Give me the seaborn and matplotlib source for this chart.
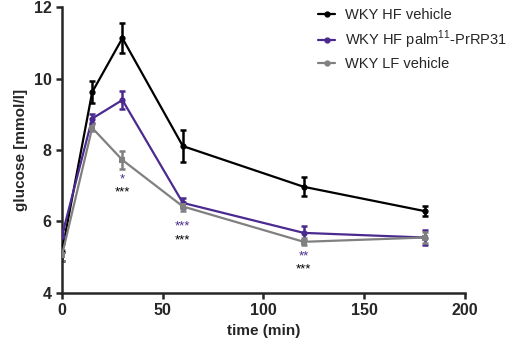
import pandas as pd
import matplotlib
matplotlib.use('Agg')
import matplotlib.pyplot as plt
import seaborn as sns

# 資料
time_min = [0, 15, 30, 60, 120, 180]
hf_vehicle = [5.15, 9.62, 11.13, 8.11, 6.97, 6.29]
hf_vehicle_err = [0.25, 0.3, 0.42, 0.45, 0.27, 0.15]
hf_palm = [5.6, 8.88, 9.4, 6.52, 5.68, 5.55]
hf_palm_err = [0.2, 0.12, 0.25, 0.15, 0.2, 0.2]
lf_vehicle = [5.05, 8.62, 7.72, 6.42, 5.43, 5.55]
lf_vehicle_err = [0.15, 0.1, 0.25, 0.12, 0.1, 0.15]

group_names = ['WKY HF vehicle', 'WKY HF palm$^{\\mathregular{11}}$-PrRP31', 'WKY LF vehicle']
group_colors = ['#000000', '#4b2a8f', '#808080']
group_markers = ['o', 'o', 's']

# 顯著性標記
sig_time = [30, 30, 60, 60, 120, 120]
sig_y = [7.17, 6.8, 5.87, 5.48, 5.03, 4.66]
sig_text = ['*', '***', '***', '***', '**', '***']
sig_group = [1, 0, 1, 0, 1, 0]

df = pd.DataFrame({
    'time': time_min * 3,
    'glucose': hf_vehicle + hf_palm + lf_vehicle,
    'err': hf_vehicle_err + hf_palm_err + lf_vehicle_err,
    'group': [group_names[0]] * 6 + [group_names[1]] * 6 + [group_names[2]] * 6,
})

sns.set_style('ticks')
plt.rcParams['font.family'] = ['Liberation Sans', 'DejaVu Sans']

fig = plt.figure(figsize=(5.12, 3.39), dpi=100)
ax = fig.add_axes([0.121, 0.136, 0.787, 0.843])

sns.lineplot(data=df, x='time', y='glucose', hue='group', style='group',
             palette=group_colors, markers=group_markers, dashes=False,
             hue_order=group_names, style_order=group_names,
             linewidth=1.6, markersize=4.5, markeredgewidth=0, ax=ax, legend=False, zorder=3)

for name, color in zip(group_names, group_colors):
    sub = df[df['group'] == name]
    ax.errorbar(sub['time'], sub['glucose'], yerr=sub['err'], fmt='none',
                ecolor=color, elinewidth=1.8, capsize=2.5, capthick=1.8, zorder=2)

for t, y, s, g in zip(sig_time, sig_y, sig_text, sig_group):
    ax.text(t, y, s, color=group_colors[g], ha='center', va='center', fontsize=9.5)

ax.set_xlim(0, 200)
ax.set_ylim(4, 12)
ax.set_xticks([0, 50, 100, 150, 200])
ax.set_yticks([4, 6, 8, 10, 12])
ax.set_xlabel('time (min)', fontsize=11, fontweight='bold')
ax.set_ylabel('glucose [mmol/l]', fontsize=11, fontweight='bold')
for lbl in ax.get_xticklabels() + ax.get_yticklabels():
    lbl.set_fontweight('bold')
ax.tick_params(labelsize=11.5, width=1.8, length=4)
for sp in ['left', 'bottom']:
    ax.spines[sp].set_linewidth(1.8)
sns.despine(ax=ax)

handles = [plt.Line2D([], [], color=c, marker='o', markersize=3.5, linewidth=1.6)
           for c in group_colors]
fig.legend(handles, group_names, loc='upper left', bbox_to_anchor=(0.595, 1.015),
           frameon=False, fontsize=10.5, handlelength=1.2, labelspacing=0.45,
           handletextpad=0.7)

fig.savefig('out.png', dpi=100)
